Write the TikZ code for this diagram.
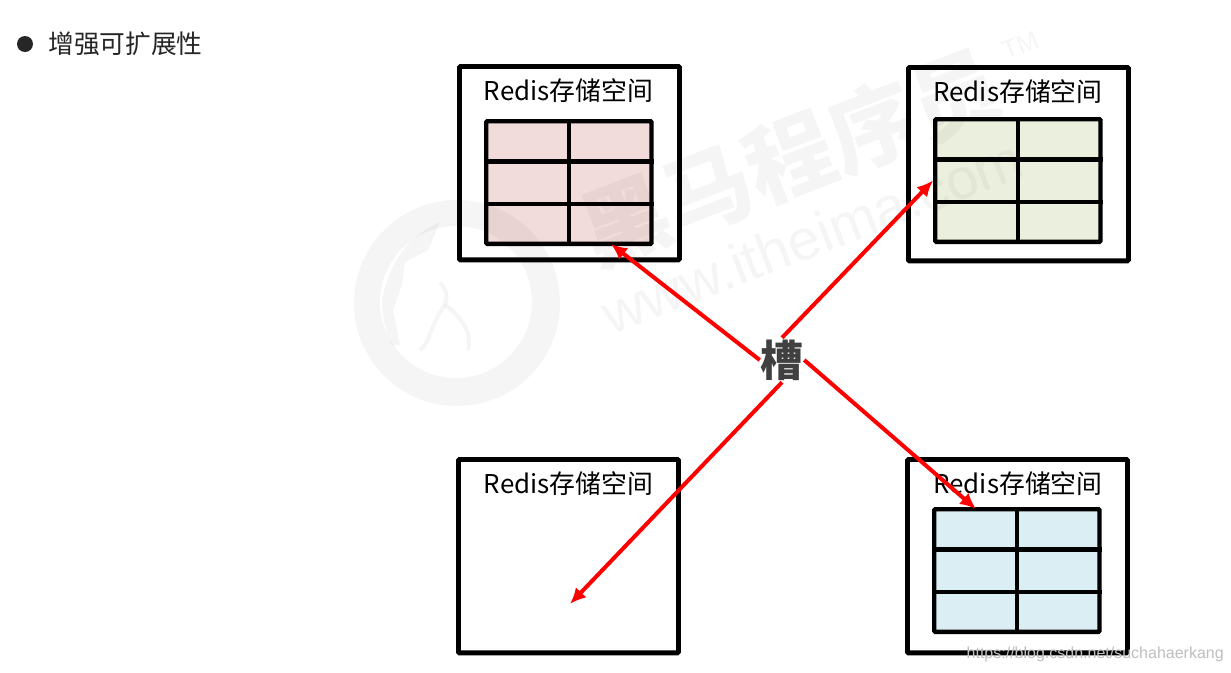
\documentclass[tikz,border=0pt]{standalone}
\usepackage{fontspec}
\setmainfont{Noto Sans CJK SC}
\newfontfamily\markfont{Liberation Sans}
\definecolor{slotgray}{RGB}{64, 64, 64}
\definecolor{headgray}{RGB}{38, 38, 38}
\definecolor{cellpink}{RGB}{242, 220, 219}
\definecolor{cellgreen}{RGB}{235, 240, 222}
\definecolor{cellblue}{RGB}{219, 238, 244}
\usetikzlibrary{
    arrows.meta,
    positioning,
    calc
}
\tikzset{
    storebox/.style={draw=black, line width=3.7pt, rounded corners=0.8pt, minimum width=165pt, minimum height=145pt, anchor=north west, inner sep=0pt},
    storetitle/.style={font=\fontsize{19.4}{24}\selectfont, black},
    storegrid/.style={draw=black, line width=3.3pt, rounded corners=0.8pt, minimum width=124pt, minimum height=92pt, anchor=north west, inner sep=0pt},
    slotarrow/.style={draw=red, line width=3pt, -{Latex[length=12pt, width=11pt]}},
    markline/.style={black, opacity=0.04}
}
\newcommand{\gridlines}[1]{%
    \draw[line width=3.3pt] (#1.north) -- (#1.south);
    \draw[line width=3.3pt] ($(#1.north west)!0.333!(#1.south west)$) -- ($(#1.north east)!0.333!(#1.south east)$);
    \draw[line width=3.3pt] ($(#1.north west)!0.667!(#1.south west)$) -- ($(#1.north east)!0.667!(#1.south east)$);
}
\begin{document}
\begin{tikzpicture}[x=0.75pt, y=-0.75pt]
    \useasboundingbox (0,0) rectangle (1231,672);
    \fill[white] (0,0) rectangle (1231,672);

    % Heading with bullet
    \node[circle, fill=headgray, inner sep=0pt, minimum size=12pt] (bullet) at (25,44) {};
    \node[font=\fontsize{19.3}{23}\selectfont, headgray, anchor=west, inner sep=0pt] (heading) at (48,44) {增强可扩展性};

    % Storage boxes
    \node[storebox] (boxa) at (457,64) {};
    \node[storebox] (boxb) at (906,65) {};
    \node[storebox] (boxc) at (456,457) {};
    \node[storebox] (boxd) at (905,457) {};

    % Box titles
    \node[storetitle] (titlea) at (568.5,91) {Redis存储空间};
    \node[storetitle] (titleb) at (1018,92) {Redis存储空间};
    \node[storetitle] (titlec) at (568.5,484) {Redis存储空间};
    \node[storetitle] (titled) at (1018,484) {Redis存储空间};

    % Slot tables
    \node[storegrid, fill=cellpink] (grida) at (484,119) {};
    \gridlines{grida}
    \node[storegrid, fill=cellgreen] (gridb) at (933,117) {};
    \gridlines{gridb}
    \node[storegrid, fill=cellblue] (gridd) at (932,507) {};
    \gridlines{gridd}

    % Watermark
    \fill[markline, even odd rule] (457,303) circle[radius=103] (456,302) circle[radius=76];
    \fill[markline] (382,300) .. controls (390,260) and (410,235) .. (440,222) -- (428,250) -- (405,262) -- (402,285) -- (393,310) -- (400,345) -- (392,345) .. controls (385,330) and (382,315) .. (382,300);
    \draw[markline, line width=3pt] (440,283) .. controls (452,295) and (445,305) .. (440,312) .. controls (430,330) and (428,345) .. (420,350);
    \draw[markline, line width=3pt] (445,305) .. controls (465,320) and (472,335) .. (468,350);
    \node[markline, font=\fontsize{66}{70}\selectfont\bfseries, rotate=21, inner sep=0pt] (markname) at (790,158) {黑马程序员};
    \node[markline, font=\markfont\fontsize{19}{22}\selectfont, rotate=21, inner sep=0pt] (marktm) at (1020,45) {TM};
    \node[markline, font=\markfont\fontsize{43}{46}\selectfont, rotate=21, inner sep=0pt] (markurl) at (812,236) {www.itheima.com};
    \node[font=\markfont\fontsize{12}{14}\selectfont, gray!50, inner sep=0pt, anchor=east] (markcsdn) at (1224,654) {https://blog.csdn.net/suchahaerkang};

    % Slot label and arrows
    \node[font=\fontsize{32}{36}\selectfont\bfseries, slotgray, inner sep=0pt, minimum width=33pt, minimum height=33pt] (slot) at (782,360) {槽};
    \coordinate (enda) at (611,244);
    \coordinate (endc) at (570,604);
    \coordinate (endd) at (976,509);
    \draw[slotarrow] (slot.west) -- (enda);
    \draw[slotarrow] (slot.north) -- (gridb.west);
    \draw[slotarrow] (slot.south) -- (endc);
    \draw[slotarrow] (slot.east) -- (endd);
\end{tikzpicture}
\end{document}
